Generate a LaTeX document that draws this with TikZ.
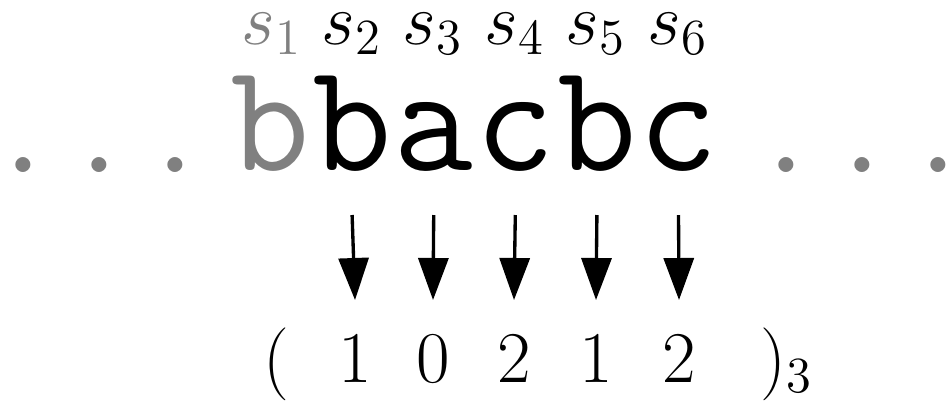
\documentclass[tikz,border=0pt]{standalone}
\usetikzlibrary{arrows.meta}

\newcommand{\dotrow}{.\kern0.1667em.\kern0.1667em.}

\tikzset{
	chr/.style={inner sep=0pt, anchor=base, font=\fontsize{44}{48}\selectfont\ttfamily},
	lbl/.style={inner sep=0pt, anchor=base, font=\fontsize{20.74}{25}\selectfont},
	dig/.style={inner sep=0pt, anchor=base, font=\fontsize{20.74}{25}\selectfont},
	dts/.style={inner sep=0pt, anchor=base west, text=gray, font=\fontsize{52}{56}\selectfont},
	arr/.style={line width=0.95pt, -{Triangle[length=0.42cm,width=0.30cm]}}
}

\begin{document}
\begin{tikzpicture}
		\useasboundingbox (0,0) rectangle (9.51,-4.01);
		% the word
		\node[dts] (dl) at (0,-1.72) {\dotrow};
		\node[chr, text=gray] (c1) at (2.705,-1.70) {b};
		\node[chr] (c2) at (3.521,-1.70) {b};
		\node[chr] (c3) at (4.337,-1.70) {a};
		\node[chr] (c4) at (5.153,-1.70) {c};
		\node[chr] (c5) at (5.969,-1.70) {b};
		\node[chr] (c6) at (6.785,-1.70) {c};
		\node[dts] (dr) at (7.625,-1.72) {\dotrow};
		% positions
		\node[lbl, text=gray] (s1) at (2.72,-0.44) {$s_1$};
		\node[lbl] (s2) at (3.52,-0.44) {$s_2$};
		\node[lbl] (s3) at (4.33,-0.44) {$s_3$};
		\node[lbl] (s4) at (5.15,-0.44) {$s_4$};
		\node[lbl] (s5) at (5.96,-0.44) {$s_5$};
		\node[lbl] (s6) at (6.78,-0.44) {$s_6$};
		% base 3 digits
		\node[dig] (po) at (2.76,-3.82) {$($};
		\node[dig] (d2) at (3.55,-3.82) {$1$};
		\node[dig] (d3) at (4.33,-3.82) {$0$};
		\node[dig] (d4) at (5.14,-3.82) {$2$};
		\node[dig] (d5) at (5.96,-3.82) {$1$};
		\node[dig] (d6) at (6.79,-3.82) {$2$};
		\node[dig, anchor=base west] (pc) at (7.60,-3.82) {$)_3$};
		% arrows
		\draw[arr] ([yshift=-0.45cm]c2.base) -- ([yshift=0.82cm]d2.base);
		\draw[arr] ([yshift=-0.45cm]c3.base) -- ([yshift=0.82cm]d3.base);
		\draw[arr] ([yshift=-0.45cm]c4.base) -- ([yshift=0.82cm]d4.base);
		\draw[arr] ([yshift=-0.45cm]c5.base) -- ([yshift=0.82cm]d5.base);
		\draw[arr] ([yshift=-0.45cm]c6.base) -- ([yshift=0.82cm]d6.base);
	\end{tikzpicture}
\end{document}
